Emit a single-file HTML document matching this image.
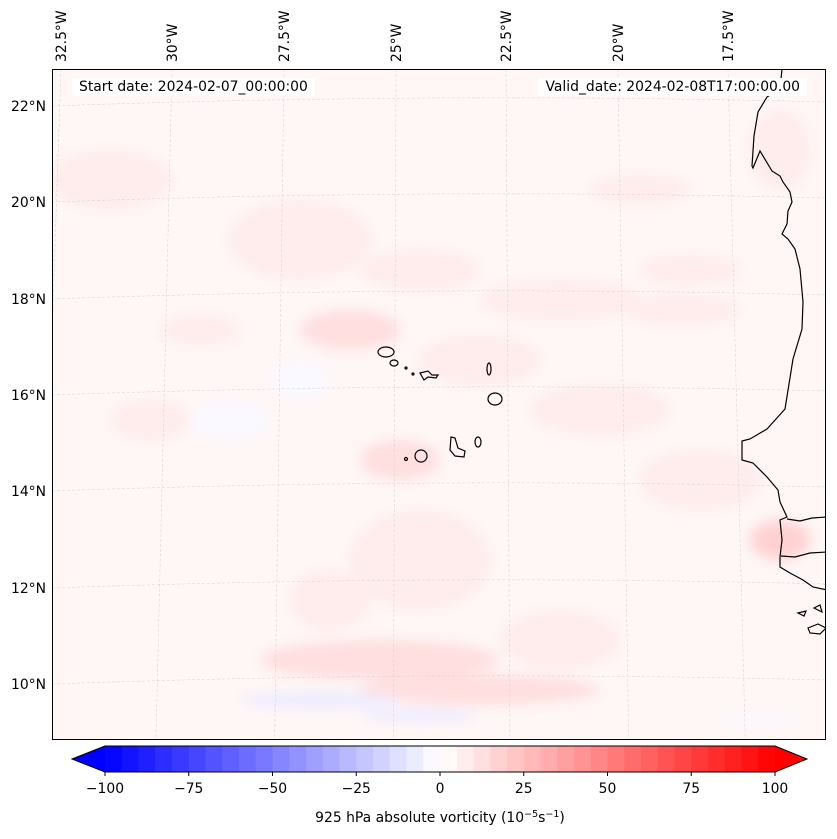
<!DOCTYPE html>
<html><head><meta charset="utf-8"><style>
body{margin:0;background:#fff;}
svg{display:block;font-family:"DejaVu Sans","Liberation Sans",sans-serif;}
</style></head><body>
<svg id="fig" width="837" height="839" viewBox="0 0 837 839">
<defs>
<filter id="blur" x="-50%" y="-50%" width="200%" height="200%"><feGaussianBlur stdDeviation="6"/></filter>
<clipPath id="mapclip"><rect x="52" y="69" width="774" height="671"/></clipPath>
</defs>
<g clip-path="url(#mapclip)">
<rect x="52" y="69" width="774" height="671" fill="#fff6f6"/>
<g id="blobs" filter="url(#blur)"></g>
<g id="grid"></g>
<g fill="none" stroke="#000" stroke-width="1.2">
<path d="M782,69 L780,89 L767,97 L758,112 L754,136 L752,166 L753,168 L760,151 L772,171 L780,176 L783,182 L790,192 L792,202 L788,211 L787,224 L782,234 L788,239 L795,249 L800,269 L803,302 L802,329 L793,359 L785,409 L767,429 L750,439 L742,441 L742,460 L753,463 L767,477 L778,490 L780,502 L787,517 L780,520 L782,540 L780,557 L780,567 L790,573 L803,580 L813,587 L827,590"/>
<path d="M787,519 L800,521 L812,518 L827,517"/>
<path d="M781,556 L795,557 L810,553 L827,552"/>
<path d="M798,613 L806,611 L804,616 Z M814,608 L820,605 L822,612 Z M808,628 L818,624 L826,628 L820,634 L810,633 Z"/>
<ellipse cx="386" cy="352" rx="8" ry="5"/>
<ellipse cx="394" cy="363" rx="4" ry="3"/>
<circle cx="406" cy="368" r="1"/>
<circle cx="413" cy="374" r="1"/>
<path d="M420,373 L428,371 L432,375 L438,375 L436,378 L428,377 L424,380 Z"/>
<ellipse cx="489" cy="369" rx="2" ry="6"/>
<ellipse cx="495" cy="399" rx="7" ry="6"/>
<path d="M451,437 L455,438 L458,448 L465,451 L464,457 L455,456 L450,450 Z"/>
<ellipse cx="478" cy="442" rx="3" ry="5"/>
<ellipse cx="421" cy="456" rx="6" ry="6"/>
<circle cx="406" cy="459" r="1.5"/>
</g>
<rect x="72" y="78" width="243" height="18" fill="#fff"/>
<text x="79" y="91" font-size="13.9">Start date: 2024-02-07_00:00:00</text>
<rect x="538" y="78" width="269" height="18" fill="#fff"/>
<text x="800" y="91" font-size="13.9" text-anchor="end">Valid_date: 2024-02-08T17:00:00.00</text>
</g>
<rect x="52.5" y="69.5" width="773" height="670" fill="none" stroke="#000" stroke-width="1"/>
<g id="lonlabels" font-size="13.9"></g>
<g id="latlabels" font-size="13.9"></g>
<g id="cbar"></g>
<text x="440" y="822" font-size="13.9" text-anchor="middle">925 hPa absolute vorticity (10<tspan dy="-5" font-size="9.5">−5</tspan><tspan dy="5">s</tspan><tspan dy="-5" font-size="9.5">−1</tspan><tspan dy="5">)</tspan></text>
</svg>
<script>
const lonLabels=["32.5°W","30°W","27.5°W","25°W","22.5°W","20°W","17.5°W"];
const lonTopX=[61,172,284,396,506,618,728];
const latLabels=["22°N","20°N","18°N","16°N","14°N","12°N","10°N"];
const latLeftY=[106,202,299,395,491,588,684];
const cbarTicks=[-100,-75,-50,-25,0,25,50,75,100];
const cbarLevels=40;
// blobs: [cx, cy, rx, ry, vorticity]
const blobCx=[110,300,420,560,640,690,350,200,480,600,150,700,420,330,380,480,780,560,400,300,680,230,780,320,420,760];
const blobCy=[180,240,270,300,190,270,330,330,360,410,420,480,560,600,660,690,540,640,460,380,310,420,150,700,715,720];
const blobRx=[60,70,60,80,50,50,50,40,60,70,40,60,70,40,120,120,30,60,40,30,60,40,30,80,60,40];
const blobRy=[30,40,20,20,15,15,20,15,25,25,20,30,50,30,20,15,20,30,20,20,15,20,40,8,6,6];
const blobV=[8,8,8,6,8,8,10,8,6,6,6,6,8,8,10,10,15,6,12,-5,6,-4,8,-6,-6,-5];
const NS="http://www.w3.org/2000/svg";
function bwr(v){let t=(v+100)/200;t=Math.max(0,Math.min(1,t));let r,g,b;
 if(t<0.5){r=g=2*t;b=1;}else{r=1;g=b=2*(1-t);} return `rgb(${Math.round(r*255)},${Math.round(g*255)},${Math.round(b*255)})`;}
function levelColor(v){const step=200/cbarLevels;let i=Math.floor((v+100)/step);i=Math.max(0,Math.min(cbarLevels-1,i));return bwr(-100+(i+0.5)*step);}
const blobs=document.getElementById('blobs');
for(let i=0;i<blobCx.length;i++){const e=document.createElementNS(NS,'ellipse');
 e.setAttribute('cx',blobCx[i]);e.setAttribute('cy',blobCy[i]);e.setAttribute('rx',blobRx[i]);e.setAttribute('ry',blobRy[i]);
 e.setAttribute('fill',levelColor(blobV[i]));
 
 
 blobs.appendChild(e);}
const grid=document.getElementById('grid');
lonTopX.forEach((x,i)=>{const l=document.createElementNS(NS,'line');const xb=x+(x-440)*0.06;
 l.setAttribute('x1',x);l.setAttribute('y1',69);l.setAttribute('x2',xb);l.setAttribute('y2',740);
 l.setAttribute('stroke','#d4d4d4');l.setAttribute('stroke-width','0.5');l.setAttribute('stroke-dasharray','3,2');
 
 
 grid.appendChild(l);
 const t=document.createElementNS(NS,'text');t.textContent=lonLabels[i];
 t.setAttribute('transform',`translate(${x+5},62) rotate(-90)`);
 
 
 document.getElementById('lonlabels').appendChild(t);});
latLeftY.forEach((y,i)=>{const p=document.createElementNS(NS,'path');
 p.setAttribute('d',`M52,${y} Q440,${y-14} 826,${y-4}`);p.setAttribute('fill','none');
 p.setAttribute('stroke','#d4d4d4');p.setAttribute('stroke-width','0.5');p.setAttribute('stroke-dasharray','3,2');
 
 
 grid.appendChild(p);
 const t=document.createElementNS(NS,'text');t.textContent=latLabels[i];
 t.setAttribute('x',46);t.setAttribute('y',y+5);t.setAttribute('text-anchor','end');
 
 
 document.getElementById('latlabels').appendChild(t);});
// colorbar
const cb=document.getElementById('cbar');const x0=105,x1=775,y0=746,y1=772;
function cx(v){return x0+(v+100)/200*(x1-x0);}
const step=200/cbarLevels;
for(let i=0;i<cbarLevels;i++){const v=-100+i*step;const r=document.createElementNS(NS,'rect');
 r.setAttribute('x',cx(v));r.setAttribute('y',y0);r.setAttribute('width',cx(v+step)-cx(v)+0.5);r.setAttribute('height',y1-y0);
 r.setAttribute('fill',bwr(v+step/2));
 
 
 cb.appendChild(r);}
const lt=document.createElementNS(NS,'polygon');lt.setAttribute('points',`${x0},${y0} 72,${(y0+y1)/2} ${x0},${y1}`);lt.setAttribute('fill',bwr(-100));


cb.appendChild(lt);
const rt=document.createElementNS(NS,'polygon');rt.setAttribute('points',`${x1},${y0} 807,${(y0+y1)/2} ${x1},${y1}`);rt.setAttribute('fill',bwr(100));


cb.appendChild(rt);
const ol=document.createElementNS(NS,'polygon');ol.setAttribute('points',`${x0},${y0} 72,${(y0+y1)/2} ${x0},${y1} ${x1},${y1} 807,${(y0+y1)/2} ${x1},${y0}`);
ol.setAttribute('fill','none');ol.setAttribute('stroke','#000');ol.setAttribute('stroke-width','1');


cb.appendChild(ol);
cbarTicks.forEach(v=>{const l=document.createElementNS(NS,'line');l.setAttribute('x1',cx(v));l.setAttribute('x2',cx(v));l.setAttribute('y1',y1);l.setAttribute('y2',y1+4);l.setAttribute('stroke','#000');
 
 
 cb.appendChild(l);
 const t=document.createElementNS(NS,'text');t.textContent=(v<0?'−'+(-v):String(v));t.setAttribute('x',cx(v));t.setAttribute('y',793);t.setAttribute('font-size','13.9');t.setAttribute('text-anchor','middle');
 
 
 cb.appendChild(t);});
</script>
</body></html>
